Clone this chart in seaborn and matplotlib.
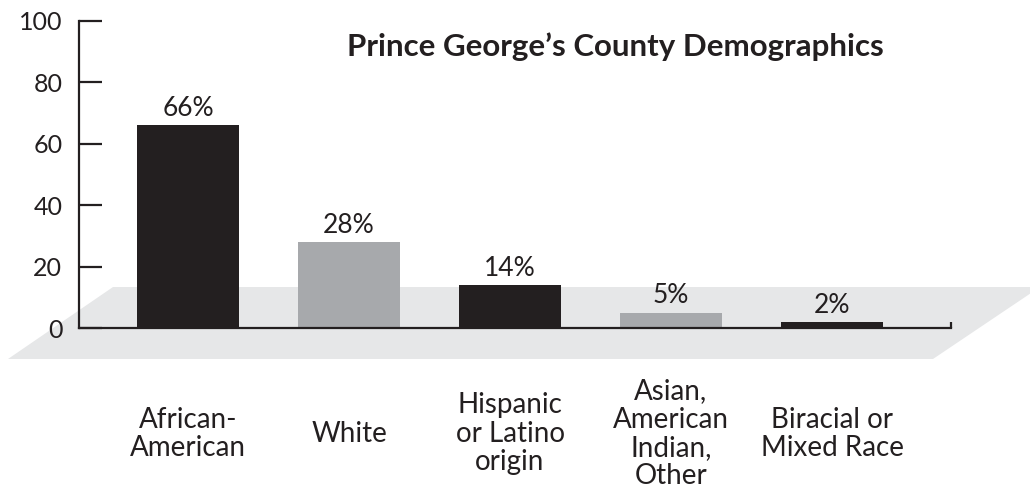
import matplotlib
matplotlib.use("Agg")
import matplotlib.pyplot as plt
from matplotlib.patches import Polygon
import seaborn as sns

# Data
categories = ["African-\nAmerican", "White", "Hispanic\nor Latino\norigin",
              "Asian,\nAmerican\nIndian,\nOther", "Biracial or\nMixed Race"]
percentages = [66, 28, 14, 5, 2]
bar_colors = ["#231f20", "#a7a9ac", "#231f20", "#a7a9ac", "#231f20"]
y_ticks = [0, 20, 40, 60, 80, 100]
title = "Prince George\u2019s County Demographics"

sns.set_theme(style="white")
plt.rcParams["font.family"] = ["Lato", "DejaVu Sans"]
ink = "#231f20"

W, H = 1030, 493
fig = plt.figure(figsize=(W / 100, H / 100), dpi=100)
ax = fig.add_axes([79 / W, 1 - 328 / H, (951 - 79) / W, (328 - 21) / H])
ax.set_facecolor("none")

# Grey "floor" plane behind the bars
floor = Polygon([(8 / W, 1 - 359 / H), (933 / W, 1 - 359 / H),
                 (1040 / W, 1 - 287 / H), (113 / W, 1 - 287 / H)],
                closed=True, transform=fig.transFigure, facecolor="#e6e7e8",
                edgecolor="none", clip_on=False, zorder=0)
ax.add_patch(floor)

sns.barplot(x=categories, y=percentages, hue=categories, palette=bar_colors,
            legend=False, width=0.63, saturation=1, linewidth=0,
            edgecolor="none", ax=ax, zorder=2)

for cont, v in zip(ax.containers, percentages):
    ax.bar_label(cont, labels=[f"{v}%"], padding=3, fontsize=19, color=ink)

ax.set_ylim(0, 100)
ax.set_xlim(-0.677, 4.739)
ax.set_yticks(y_ticks)
ax.tick_params(axis="y", direction="in", length=16.5, width=1.6, color=ink,
               pad=12, labelsize=18, labelcolor=ink, left=True)
ax.tick_params(axis="x", length=0, pad=76, labelsize=20, labelcolor=ink)
for lbl in ax.get_xticklabels():
    lbl.set_verticalalignment("center")
    lbl.set_linespacing(1.1)
ax.set_xlabel("")
ax.set_ylabel("")

for side in ("top", "right"):
    ax.spines[side].set_visible(False)
for side in ("left", "bottom"):
    ax.spines[side].set_color(ink)
    ax.spines[side].set_linewidth(1.6)
    ax.spines[side].set_zorder(3)

# Small upturned end on the baseline
ax.plot([1, 1], [0, 0.02], transform=ax.transAxes, color=ink, lw=1.6,
        clip_on=False, zorder=3, solid_capstyle="butt")

fig.text(615 / W, 1 - 47 / H, title, ha="center", va="center",
         fontsize=22.5, fontweight="bold", color=ink)

fig.savefig("out.png", dpi=100)
